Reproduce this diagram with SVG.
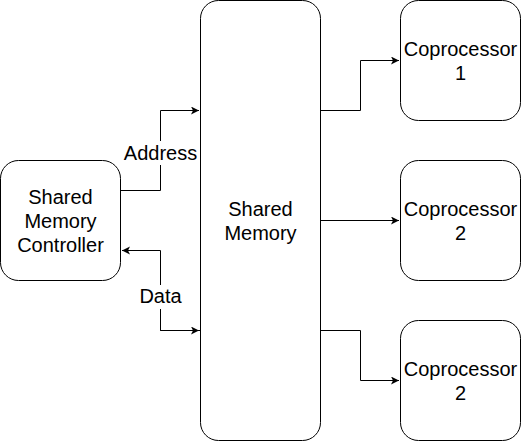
<svg xmlns="http://www.w3.org/2000/svg" width="521" height="441" viewBox="0 0 521 441">
<style>
.box{fill:#fff;stroke:#000;stroke-width:1}
.t{font-family:"Liberation Sans",Arial,sans-serif;font-size:20px;fill:#000;text-anchor:middle}
.e{fill:none;stroke:#000;stroke-width:1}
</style>
<defs>
<marker id="arr" markerWidth="10" markerHeight="10" refX="8" refY="4" orient="auto" markerUnits="userSpaceOnUse">
<path d="M0,0 L8,4 L0,8 L2,4 Z" fill="#000"/>
</marker>
</defs>
<rect width="521" height="441" fill="#fff"/>
<g id="connectors">
<path class="e" d="M120.5,190.5 H160.5 V110.5 H199" marker-end="url(#arr)"/>
<path class="e" d="M200.5,330.5 H160.5 V250.5 H122" marker-end="url(#arr)"/>
<path class="e" d="M160.5,300.5 V330.5 H199" marker-end="url(#arr)"/>
<path class="e" d="M320.5,110.5 H360.5 V60.5 H399" marker-end="url(#arr)"/>
<path class="e" d="M320.5,220.5 H399" marker-end="url(#arr)"/>
<path class="e" d="M320.5,330.5 H360.5 V380.5 H399" marker-end="url(#arr)"/>
<rect x="124" y="141" width="73" height="24" fill="#fff"/>
<text class="t" x="160.5" y="160">Address</text>
<rect x="137" y="285" width="47" height="24" fill="#fff"/>
<text class="t" x="160.5" y="303">Data</text>
</g>
<g id="controller">
<rect class="box" x="0.5" y="160.5" width="120" height="120" rx="18"/>
<text class="t" x="60.5" y="204">Shared</text>
<text class="t" x="60.5" y="228">Memory</text>
<text class="t" x="60.5" y="252">Controller</text>
</g>
<g id="shared-memory">
<rect class="box" x="200.5" y="0.5" width="120" height="440" rx="18"/>
<text class="t" x="260.5" y="216">Shared</text>
<text class="t" x="260.5" y="240">Memory</text>
</g>
<g id="coprocessor-1">
<rect class="box" x="400.5" y="0.5" width="120" height="120" rx="18"/>
<text class="t" x="460.5" y="56">Coprocessor</text>
<text class="t" x="460.5" y="80">1</text>
</g>
<g id="coprocessor-2">
<rect class="box" x="400.5" y="160.5" width="120" height="120" rx="18"/>
<text class="t" x="460.5" y="216">Coprocessor</text>
<text class="t" x="460.5" y="240">2</text>
</g>
<g id="coprocessor-3">
<rect class="box" x="400.5" y="320.5" width="120" height="120" rx="18"/>
<text class="t" x="460.5" y="376">Coprocessor</text>
<text class="t" x="460.5" y="400">2</text>
</g>
</svg>
